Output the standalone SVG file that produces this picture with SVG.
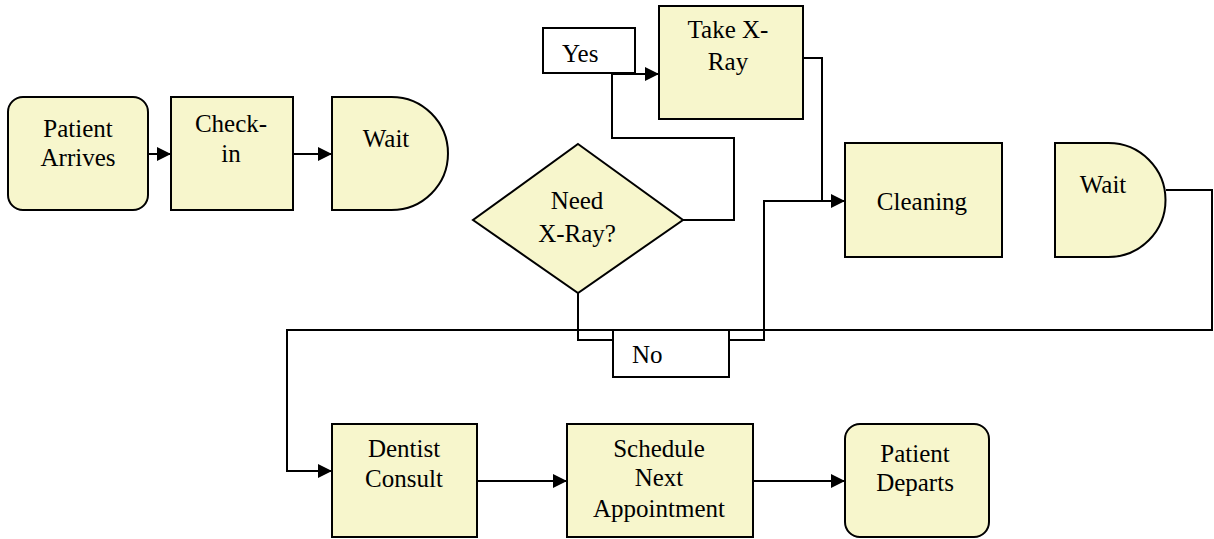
<svg xmlns="http://www.w3.org/2000/svg" width="1214" height="539" viewBox="0 0 1214 539">
<defs>
<style>
.n{fill:#F7F6CC;stroke:#000;stroke-width:2}
.lb{fill:#fff;stroke:#000;stroke-width:2}
.c{fill:none;stroke:#000;stroke-width:2}
text{font-size:25px;fill:#000}
.m{text-anchor:middle}
</style>
<marker id="ah" viewBox="0 0 14 14" refX="14" refY="7" markerWidth="14" markerHeight="14" markerUnits="userSpaceOnUse" orient="auto">
<path d="M0,0 L14,7 L0,14 Z" fill="#000"/>
</marker>
</defs>
<rect width="1214" height="539" fill="#fff"/>
<g id="connectors">
<path class="c" d="M148,154 H171" marker-end="url(#ah)"/>
<path class="c" d="M293,154 H332" marker-end="url(#ah)"/>
<path class="c" d="M683,220 H734 V138 H612 V74 H659" marker-end="url(#ah)"/>
<path class="c" d="M803,58 H822 V201 H845" marker-end="url(#ah)"/>
<path class="c" d="M578,293 V340 H764 V201 H822"/>
<path class="c" d="M1166,190 H1212 V330 H287 V471 H332" marker-end="url(#ah)"/>
<path class="c" d="M477,481 H567" marker-end="url(#ah)"/>
<path class="c" d="M753,481 H845" marker-end="url(#ah)"/>
</g>
<g font-family="Liberation Serif, Tinos, DejaVu Serif, serif">
<g id="patient-arrives">
<rect class="n" x="8" y="97" width="140" height="113" rx="15"/>
<text class="m" x="78" y="137">Patient</text>
<text class="m" x="78" y="166">Arrives</text>
</g>
<g id="check-in">
<rect class="n" x="171" y="97" width="122" height="113"/>
<text class="m" x="231" y="132">Check-</text>
<text class="m" x="231" y="162">in</text>
</g>
<g id="wait-1">
<path class="n" d="M332,97 H391.5 A56.5,56.5 0 0 1 391.5,210 H332 Z"/>
<text class="m" x="386" y="147">Wait</text>
</g>
<g id="need-xray">
<path class="n" d="M578,144 L683,220 L578,293 L473,220 Z"/>
<text class="m" x="577" y="209">Need</text>
<text class="m" x="577" y="242">X-Ray?</text>
</g>
<g id="yes-label">
<rect class="lb" x="543" y="28" width="92" height="45"/>
<text x="562" y="62">Yes</text>
</g>
<g id="take-xray">
<rect class="n" x="659" y="6" width="144" height="113"/>
<text class="m" x="728" y="38">Take X-</text>
<text class="m" x="728" y="70">Ray</text>
</g>
<g id="cleaning">
<rect class="n" x="845" y="143" width="157" height="114"/>
<text class="m" x="922" y="210">Cleaning</text>
</g>
<g id="wait-2">
<path class="n" d="M1055,143 H1108.5 A57,57 0 0 1 1108.5,257 H1055 Z"/>
<text class="m" x="1103" y="193">Wait</text>
</g>
<g id="no-label">
<rect class="lb" x="613" y="330" width="116" height="47"/>
<text x="632" y="363">No</text>
</g>
<g id="dentist-consult">
<rect class="n" x="332" y="424" width="145" height="113"/>
<text class="m" x="404" y="457">Dentist</text>
<text class="m" x="404" y="487">Consult</text>
</g>
<g id="schedule">
<rect class="n" x="567" y="424" width="186" height="113"/>
<text class="m" x="659" y="457">Schedule</text>
<text class="m" x="659" y="486">Next</text>
<text class="m" x="659" y="517">Appointment</text>
</g>
<g id="patient-departs">
<rect class="n" x="845" y="424" width="144" height="113" rx="15"/>
<text class="m" x="915" y="462">Patient</text>
<text class="m" x="915" y="491">Departs</text>
</g>
</g>
</svg>
